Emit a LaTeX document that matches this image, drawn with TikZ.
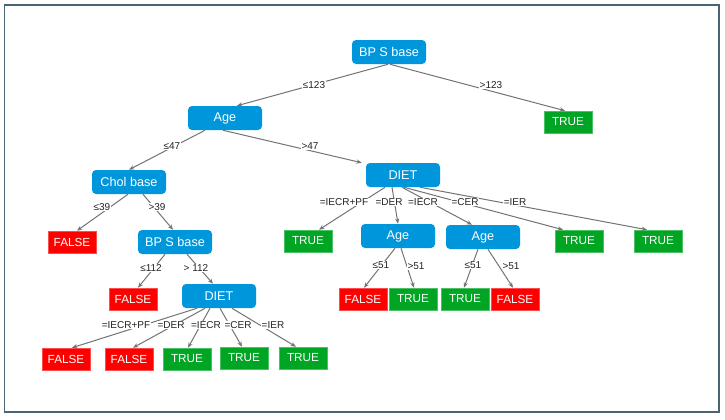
\documentclass[tikz,border=0pt]{standalone}
\usepackage{fontspec}
\setmainfont{Liberation Sans}
\usetikzlibrary{arrows.meta,calc}
\definecolor{blueN}{RGB}{0,150,220}
\definecolor{greenN}{RGB}{0,165,35}
\definecolor{redN}{RGB}{255,0,0}
\definecolor{edgeC}{RGB}{115,115,115}
\definecolor{frameC}{RGB}{75,100,115}
\definecolor{labC}{RGB}{35,35,35}
\tikzset{
  dec/.style={rectangle, rounded corners=3pt, fill=blueN, text=white,
    minimum width=55.5pt, minimum height=18pt, inner sep=0pt,
    font=\fontsize{9.5}{10}\selectfont},
  leafT/.style={rectangle, fill=greenN, draw=greenN!70!white, line width=0.4pt, text=white,
    minimum width=36pt, minimum height=16.5pt, inner sep=0pt,
    font=\fontsize{8.8}{9}\selectfont},
  leafF/.style={leafT, fill=redN, draw=redN!70!white},
  lab/.style={fill=white, text=labC, inner sep=0.6pt, font=\fontsize{7.5}{8}\selectfont},
  edge/.style={draw=edgeC, line width=0.75pt, -{Stealth[length=4pt,width=3.2pt]}},
}
\begin{document}
\begin{tikzpicture}[x=0.75pt,y=-0.75pt]
\useasboundingbox (0,0) rectangle (725,419);
\draw[frameC, line width=1.3pt] (4.5,5) rectangle (719,412);
% decision nodes
\node[dec] (bp1) at (389,52) {BP S base};
\node[dec] (age1) at (225,118) {Age};
\node[dec] (chol) at (129,182) {Chol base};
\node[dec] (diet1) at (403,175) {DIET};
\node[dec] (bp2) at (175,242) {BP S base};
\node[dec] (age2) at (398,236) {Age};
\node[dec] (age3) at (483,237) {Age};
\node[dec] (diet2) at (219,296) {DIET};
% leaves
\node[leafT] (t1) at (568,122) {TRUE};
\node[leafF] (f1) at (72,242) {FALSE};
\node[leafT] (t2) at (308,241) {TRUE};
\node[leafT] (t3) at (579,241) {TRUE};
\node[leafT] (t4) at (658,241) {TRUE};
\node[leafF] (f2) at (133,299) {FALSE};
\node[leafF] (f3) at (363,299) {FALSE};
\node[leafT] (t5) at (413,299) {TRUE};
\node[leafT] (t6) at (465,299) {TRUE};
\node[leafF] (f4) at (515,299) {FALSE};
\node[leafF] (f5) at (66,359) {FALSE};
\node[leafF] (f6) at (129,359) {FALSE};
\node[leafT] (t7) at (187,359) {TRUE};
\node[leafT] (t8) at (244,358) {TRUE};
\node[leafT] (t9) at (303,358) {TRUE};
% edges
\draw[edge] ($(bp1.south)+(-1,0)$) -- ($(age1.north)+(12,0)$);
\draw[edge] ($(bp1.south)+(1,0)$) -- ($(t1.north)+(-3,0)$);
\draw[edge] ($(age1.south)+(-20,0)$) -- (chol.north);
\draw[edge] ($(age1.south)+(-2,0)$) -- ($(diet1.north west)+(-4,0)$);
\draw[edge] ($(chol.south)+(-1,0)$) -- ($(f1.north)+(5,0)$);
\draw[edge] ($(chol.south)+(14,0)$) -- ($(bp2.north)+(-2,0)$);
\draw[edge] ($(bp2.south)+(-10,0)$) -- ($(f2.north)+(5,0)$);
\draw[edge] ($(bp2.south)+(12,0)$) -- ($(diet2.north)+(-6,0)$);
\draw[edge] ($(diet2.south)+(-22,0)$) -- ($(f5.north)+(6,0)$);
\draw[edge] ($(diet2.south)+(-14,0)$) -- ($(f6.north)+(4,0)$);
\draw[edge] ($(diet2.south)+(-9,0)$) -- ($(t7.north)+(1,0)$);
\draw[edge] ($(diet2.south)+(1,0)$) -- ($(t8.north)+(-2,0)$);
\draw[edge] ($(diet2.south)+(13,0)$) -- ($(t9.north)+(-7,0)$);
\draw[edge] ($(diet1.south)+(-18,0)$) -- ($(t2.north)+(11,0)$);
\draw[edge] ($(diet1.south)+(-11,0)$) -- (age2.north);
\draw[edge] ($(diet1.south)+(-1,0)$) -- ($(age3.north)+(-11,0)$);
\draw[edge] ($(diet1.south)+(1,0)$) -- ($(t3.north)+(-16,0)$);
\draw[edge] ($(diet1.south)+(17,0)$) -- ($(t4.north)+(-11,0)$);
\draw[edge] ($(age2.south)+(-3,0)$) -- ($(f3.north)+(1,0)$);
\draw[edge] ($(age2.south)+(3,0)$) -- ($(t5.north)+(1,0)$);
\draw[edge] ($(age3.south)+(-5,0)$) -- ($(t6.north)+(-1,0)$);
\draw[edge] ($(age3.south)+(5,0)$) -- ($(f4.north)+(-2,0)$);
% edge labels
\node[lab] (l1) at (314,85) {≤123};
\node[lab] (l2) at (491,85) {>123};
\node[lab] (l3) at (172,146) {≤47};
\node[lab] (l4) at (310,146) {>47};
\node[lab] (l5) at (102,207) {≤39};
\node[lab] (l6) at (157,207) {>39};
\node[lab] (l7) at (151,268) {≤112};
\node[lab] (l8) at (196,268) {> 112};
\node[lab] (l9) at (344,202) {=IECR+PF};
\node[lab] (l10) at (389,202) {=DER};
\node[lab] (l11) at (423,202) {=IECR};
\node[lab] (l12) at (465,202) {=CER};
\node[lab] (l13) at (515,202) {=IER};
\node[lab] (l14) at (381,265) {≤51};
\node[lab] (l15) at (416,266) {>51};
\node[lab] (l16) at (473,265) {≤51};
\node[lab] (l17) at (511,266) {>51};
\node[lab] (l18) at (126,325) {=IECR+PF};
\node[lab] (l19) at (171,325) {=DER};
\node[lab] (l20) at (206,325) {=IECR};
\node[lab] (l21) at (238,325) {=CER};
\node[lab] (l22) at (273,325) {=IER};
\end{tikzpicture}
\end{document}
